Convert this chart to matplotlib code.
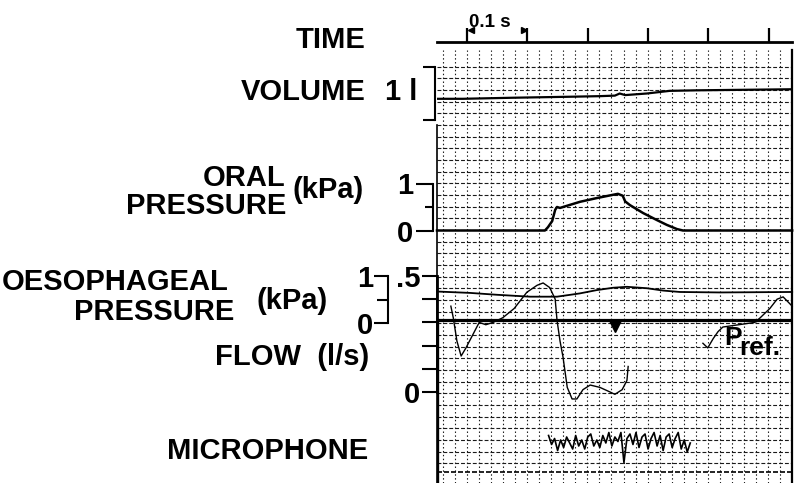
import numpy as np
import matplotlib
matplotlib.use("Agg")
import matplotlib.pyplot as plt

plt.rcParams['font.family'] = ['Liberation Sans', 'DejaVu Sans']

# ---------------- data ----------------
time_ticks = [0.1, 0.2, 0.3, 0.4, 0.5, 0.6]          # s

vol_t = [0.050, 0.093, 0.176, 0.276, 0.320, 0.345, 0.353, 0.362, 0.398, 0.436, 0.481, 0.639]
vol_l = [0.40, 0.40, 0.42, 0.44, 0.45, 0.46, 0.50, 0.47, 0.50, 0.55, 0.56, 0.58]

oral_t = [0.050, 0.229, 0.234, 0.241, 0.246, 0.249, 0.254, 0.259, 0.287, 0.315,
          0.342, 0.350, 0.358, 0.362, 0.370, 0.392, 0.415, 0.431, 0.448, 0.458, 0.639]
oral_kpa = [0.0, 0.0, 0.07, 0.20, 0.44, 0.50, 0.48, 0.50, 0.61, 0.69,
            0.76, 0.78, 0.74, 0.62, 0.54, 0.37, 0.22, 0.12, 0.03, 0.0, 0.0]

oes_t = [0.050, 0.105, 0.150, 0.204, 0.249, 0.271, 0.287, 0.315, 0.342, 0.365,
         0.398, 0.425, 0.453, 0.519, 0.639]
oes_kpa = [0.67, 0.64, 0.60, 0.56, 0.56, 0.60, 0.63, 0.70, 0.75, 0.77,
           0.74, 0.69, 0.66, 0.65, 0.66]
pref_level = 0.07          # kPa, thick reference line
marker_t = [0.345]
marker_kpa = [-0.06]

flow_t = [0.073, 0.077, 0.083, 0.090, 0.098, 0.110, 0.120, 0.131, 0.143, 0.159,
          0.178, 0.199, 0.216, 0.226, 0.237, 0.246, 0.249, 0.254, 0.259, 0.266,
          0.274, 0.282, 0.292, 0.304, 0.320, 0.337, 0.345, 0.357, 0.365, 0.367,
          0.430,
          0.491, 0.499, 0.508, 0.516, 0.524, 0.577, 0.586, 0.602, 0.614, 0.624, 0.639]
flow_ls = [0.37, 0.32, 0.22, 0.155, 0.19, 0.25, 0.30, 0.29, 0.30, 0.32,
           0.36, 0.43, 0.46, 0.47, 0.45, 0.40, 0.31, 0.22, 0.15, 0.02,
           -0.03, -0.03, 0.01, 0.03, 0.02, 0.0, -0.01, 0.01, 0.05, 0.11,
           np.nan,
           0.21, 0.19, 0.23, 0.26, 0.28, 0.30, 0.32, 0.36, 0.40, 0.41, 0.37]

mic_start, mic_end = 0.235, 0.47
mic_val = [0.3, -0.3, 0.1, -0.7, 0.0, -0.5, 0.2, -0.2, -0.6, 0.3, -0.4, 0.0,
           -0.6, 0.2, 0.4, -0.4, 0.0, -0.5, 0.3, -0.2, 0.5, -0.4, 0.2, -0.1,
           0.5, -1.5, 0.1, 0.4, -0.3, 0.5, -0.5, 0.2, 0.4, -0.6, 0.1, 0.5,
           -0.4, 0.3, -0.7, 0.2, 0.4, -0.5, 0.1, 0.5, -0.6, 0.0, -0.8, -0.2]

# ---------------- layout helpers ----------------
W, H = 794, 483
fig = plt.figure(figsize=(W / 100, H / 100), dpi=100)
fig.patch.set_facecolor('white')

def box(x0, x1, ytop, ybot):
    return [x0 / W, 1 - ybot / H, (x1 - x0) / W, (ybot - ytop) / H]

T0, T1 = 0.05, 0.05 + 355 / 603
PX0, PX1 = 437, 792
FS = 21
BOLD = dict(fontsize=FS, fontweight='bold', color='black')

def channel(ytop, ybot, ylim):
    ax = fig.add_axes(box(PX0, PX1, ytop, ybot))
    ax.set_xlim(T0, T1)
    ax.set_ylim(*ylim)
    ax.patch.set_alpha(0)
    for s in ax.spines.values():
        s.set_visible(False)
    ax.set_xticks([])
    ax.set_yticks([])
    return ax

# ---------------- chart paper grid ----------------
gtop, gbot = 50, 483
row0, rowpx = 230, 11.67
g = fig.add_axes(box(PX0, PX1, gtop, gbot), zorder=0)
g.set_xlim(T0, T1)
g.set_ylim((gbot - row0) / rowpx, (gtop - row0) / rowpx)
g.set_xticks(np.arange(0.06, 0.64, 0.02))
g.set_yticks(np.arange(-14, 21, 1))
g.tick_params(length=0, labelbottom=False, labelleft=False)
g.grid(axis='x', color='0.1', lw=0.8, ls=(0, (1.3, 2.2)))
g.grid(axis='y', color='0.1', lw=0.8, ls=(0, (3.5, 1.8)))
for s in ['top', 'bottom']:
    g.spines[s].set_visible(False)
g.spines['left'].set_linewidth(1.2)
g.spines['left'].set_bounds((gbot - row0) / rowpx, (125 - row0) / rowpx)
g.spines['right'].set_linewidth(1.6)
g.axvline(T0, ymin=0, ymax=(gbot - 320) / (gbot - gtop), color='black', lw=2.4)
ruler_row = (472 - row0) / rowpx
g.axhline(ruler_row, color='black', lw=1.2, ls=(0, (3, 1.2)))

# ---------------- time marker ----------------
ta = channel(20, 42, (0, 1))
ta.spines['bottom'].set_visible(True)
ta.spines['bottom'].set_linewidth(2.0)
ta.set_xticks(time_ticks)
ta.tick_params(axis='x', direction='in', length=10, width=1.6, labelbottom=False)
ta.plot([0.1 + 0.006], [0.55], marker='<', ms=4, color='black', clip_on=False)
ta.plot([0.2 - 0.006], [0.55], marker='>', ms=4, color='black', clip_on=False)
fig.text(469 / W, 1 - 27 / H, '0.1 s', fontsize=13.5, fontweight='bold', va='baseline', ha='left')

# ---------------- volume ----------------
va = channel(67, 120, (0, 1))
va.plot(vol_t, vol_l, color='black', lw=1.6)
va.spines['left'].set_visible(True)
va.spines['left'].set_position(('outward', 1.5))
va.spines['left'].set_linewidth(1.5)
va.set_yticks([0, 1])
va.tick_params(axis='y', direction='out', length=9, width=1.5, labelleft=False)

# ---------------- oral pressure ----------------
oa = channel(183.5, 230.5, (0, 1))
oa.plot(oral_t, oral_kpa, color='black', lw=1.8, clip_on=False)
oa.spines['left'].set_visible(True)
oa.spines['left'].set_position(('outward', 3))
oa.spines['left'].set_linewidth(1.5)
oa.set_yticks([0, 1])
oa.set_yticklabels(['0', '1'], **BOLD)
oa.set_yticks([0.5], minor=True)
oa.tick_params(axis='y', which='major', direction='out', length=12, width=1.5, pad=2)
oa.tick_params(axis='y', which='minor', direction='out', length=6, width=1.5)

# ---------------- oesophageal pressure ----------------
ea = channel(276, 323, (0, 1))
ea.plot(oes_t, oes_kpa, color='black', lw=1.3, clip_on=False)
ea.axhline(pref_level, color='black', lw=2.3)
ea.plot(marker_t, marker_kpa, marker='v', ms=8, color='black', ls='none', clip_on=False)
ea.spines['left'].set_visible(True)
ea.spines['left'].set_position(('outward', 35))
ea.spines['left'].set_linewidth(1.5)
ea.set_yticks([0, 1])
ea.set_yticklabels(['0', '1'], **BOLD)
ea.set_yticks([0.5], minor=True)
ea.tick_params(axis='y', which='major', direction='out', length=10, width=1.5, pad=1)
ea.tick_params(axis='y', which='minor', direction='out', length=8, width=1.5)

# ---------------- flow ----------------
fa = channel(276, 392, (0, 0.5))
fa.plot(flow_t, flow_ls, color='black', lw=1.0, clip_on=False)
fa.spines['left'].set_visible(True)
fa.spines['left'].set_linewidth(2.0)
fa.set_yticks([0, 0.1, 0.2, 0.3, 0.4, 0.5])
fa.set_yticklabels(['0', '', '', '', '', '.5'], **BOLD)
fa.tick_params(axis='y', direction='out', length=11, width=1.5, pad=1)

# ---------------- microphone ----------------
ma = channel(425, 455, (-1, 1))
mic_t = np.linspace(mic_start, mic_end, len(mic_val))
ma.plot(mic_t, mic_val, color='black', lw=1.2, clip_on=False)

# ---------------- labels ----------------
def lab(x, y, s, ha='right', **kw):
    d = dict(BOLD)
    d.update(kw)
    fig.text(x / W, 1 - y / H, s, ha=ha, va='center', **d)

lab(366, 40, 'TIME')
lab(366, 92, 'VOLUME')
lab(385, 92, '1 l', ha='left')
lab(286, 178, 'ORAL')
lab(286, 206, 'PRESSURE')
lab(292, 190, '(kPa)', ha='left')
lab(229, 282, 'OESOPHAGEAL')
lab(234, 312, 'PRESSURE')
lab(257, 301, '(kPa)', ha='left')
lab(369, 357, 'FLOW  (l/s)')
lab(368, 451, 'MICROPHONE')

fig.text(724 / W, 1 - 345 / H, 'P', fontsize=19, fontweight='bold', va='baseline', ha='left')
fig.text(739 / W, 1 - 355 / H, 'ref.', fontsize=19, fontweight='bold', va='baseline', ha='left')

fig.savefig('out.png', dpi=100, facecolor='white')
